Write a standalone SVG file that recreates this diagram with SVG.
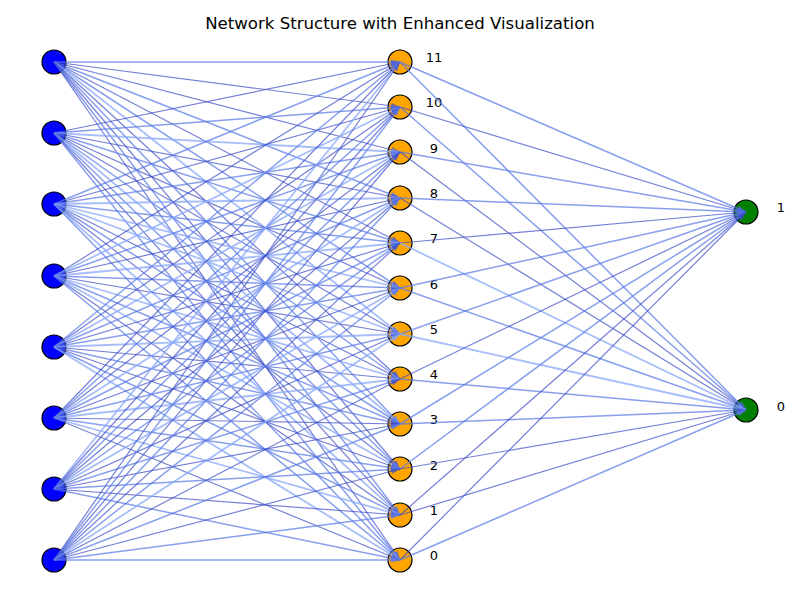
<svg xmlns="http://www.w3.org/2000/svg" width="800" height="600" viewBox="0 0 800 600">
<style>
.t{font-family:"DejaVu Sans",sans-serif;font-size:16.6px;fill:#000}
.lb{font-family:"DejaVu Sans",sans-serif;font-size:13px;fill:#000;text-anchor:middle}
.in{fill:#0000ff;stroke:#000;stroke-width:1.2}
.hd{fill:#ffa500;stroke:#000;stroke-width:1.2}
.out{fill:#008000;stroke:#000;stroke-width:1.2}
.d{stroke:#3a4ac4;stroke-opacity:.7;stroke-width:1.2;marker-end:url(#ad)}
.m{stroke:#5a7ae6;stroke-opacity:.72;stroke-width:1.5;marker-end:url(#am)}
.l{stroke:#8aa8fa;stroke-opacity:.75;stroke-width:1.8;marker-end:url(#al)}
</style>
<defs>
<marker id="ad" markerUnits="userSpaceOnUse" markerWidth="9" markerHeight="6" refX="9" refY="3" orient="auto"><path d="M0,0L9,3L0,6z" fill="#3a4ac4" fill-opacity=".6"/></marker>
<marker id="am" markerUnits="userSpaceOnUse" markerWidth="9" markerHeight="6" refX="9" refY="3" orient="auto"><path d="M0,0L9,3L0,6z" fill="#5a7ae6" fill-opacity=".65"/></marker>
<marker id="al" markerUnits="userSpaceOnUse" markerWidth="9" markerHeight="6" refX="9" refY="3" orient="auto"><path d="M0,0L9,3L0,6z" fill="#8aa8fa" fill-opacity=".7"/></marker>
</defs>
<rect width="800" height="600" fill="#fff"/>
<text class="t" x="400" y="29" text-anchor="middle">Network Structure with Enhanced Visualization</text>
<g id="nodes">
<g id="in0"><circle class="in" cx="54" cy="62" r="12"/></g>
<g id="in1"><circle class="in" cx="54" cy="133" r="12"/></g>
<g id="in2"><circle class="in" cx="54" cy="204" r="12"/></g>
<g id="in3"><circle class="in" cx="54" cy="276" r="12"/></g>
<g id="in4"><circle class="in" cx="54" cy="347" r="12"/></g>
<g id="in5"><circle class="in" cx="54" cy="418" r="12"/></g>
<g id="in6"><circle class="in" cx="54" cy="489" r="12"/></g>
<g id="in7"><circle class="in" cx="54" cy="560" r="12"/></g>
<g id="h11"><circle class="hd" cx="400" cy="62" r="12"/><text class="lb" x="434" y="62">11</text></g>
<g id="h10"><circle class="hd" cx="400" cy="107" r="12"/><text class="lb" x="434" y="107">10</text></g>
<g id="h9"><circle class="hd" cx="400" cy="152" r="12"/><text class="lb" x="434" y="153">9</text></g>
<g id="h8"><circle class="hd" cx="400" cy="198" r="12"/><text class="lb" x="434" y="198">8</text></g>
<g id="h7"><circle class="hd" cx="400" cy="243" r="12"/><text class="lb" x="434" y="243">7</text></g>
<g id="h6"><circle class="hd" cx="400" cy="288" r="12"/><text class="lb" x="434" y="289">6</text></g>
<g id="h5"><circle class="hd" cx="400" cy="334" r="12"/><text class="lb" x="434" y="334">5</text></g>
<g id="h4"><circle class="hd" cx="400" cy="379" r="12"/><text class="lb" x="434" y="379">4</text></g>
<g id="h3"><circle class="hd" cx="400" cy="424" r="12"/><text class="lb" x="434" y="424">3</text></g>
<g id="h2"><circle class="hd" cx="400" cy="469" r="12"/><text class="lb" x="434" y="470">2</text></g>
<g id="h1"><circle class="hd" cx="400" cy="515" r="12"/><text class="lb" x="434" y="515">1</text></g>
<g id="h0"><circle class="hd" cx="400" cy="560" r="12"/><text class="lb" x="434" y="560">0</text></g>
<g id="o1"><circle class="out" cx="746" cy="212" r="12"/><text class="lb" x="781" y="212">1</text></g>
<g id="o0"><circle class="out" cx="746" cy="410" r="12"/><text class="lb" x="781" y="411">0</text></g>
</g>
<g id="edges">
<line class="m" x1="54" y1="62" x2="400" y2="62"/><line class="d" x1="54" y1="62" x2="400" y2="107"/><line class="d" x1="54" y1="62" x2="400" y2="152"/><line class="m" x1="54" y1="62" x2="400" y2="198"/><line class="d" x1="54" y1="62" x2="400" y2="243"/><line class="m" x1="54" y1="62" x2="400" y2="288"/><line class="l" x1="54" y1="62" x2="400" y2="334"/><line class="d" x1="54" y1="62" x2="400" y2="379"/><line class="m" x1="54" y1="62" x2="400" y2="424"/><line class="d" x1="54" y1="62" x2="400" y2="469"/><line class="m" x1="54" y1="62" x2="400" y2="515"/><line class="d" x1="54" y1="62" x2="400" y2="560"/>
<line class="d" x1="54" y1="133" x2="400" y2="62"/><line class="m" x1="54" y1="133" x2="400" y2="107"/><line class="l" x1="54" y1="133" x2="400" y2="152"/><line class="d" x1="54" y1="133" x2="400" y2="198"/><line class="m" x1="54" y1="133" x2="400" y2="243"/><line class="d" x1="54" y1="133" x2="400" y2="288"/><line class="d" x1="54" y1="133" x2="400" y2="334"/><line class="m" x1="54" y1="133" x2="400" y2="379"/><line class="l" x1="54" y1="133" x2="400" y2="424"/><line class="m" x1="54" y1="133" x2="400" y2="469"/><line class="d" x1="54" y1="133" x2="400" y2="515"/><line class="m" x1="54" y1="133" x2="400" y2="560"/>
<line class="m" x1="54" y1="204" x2="400" y2="62"/><line class="d" x1="54" y1="204" x2="400" y2="107"/><line class="m" x1="54" y1="204" x2="400" y2="152"/><line class="l" x1="54" y1="204" x2="400" y2="198"/><line class="m" x1="54" y1="204" x2="400" y2="243"/><line class="l" x1="54" y1="204" x2="400" y2="288"/><line class="l" x1="54" y1="204" x2="400" y2="334"/><line class="d" x1="54" y1="204" x2="400" y2="379"/><line class="m" x1="54" y1="204" x2="400" y2="424"/><line class="d" x1="54" y1="204" x2="400" y2="469"/><line class="l" x1="54" y1="204" x2="400" y2="515"/><line class="m" x1="54" y1="204" x2="400" y2="560"/>
<line class="d" x1="54" y1="276" x2="400" y2="62"/><line class="l" x1="54" y1="276" x2="400" y2="107"/><line class="m" x1="54" y1="276" x2="400" y2="152"/><line class="d" x1="54" y1="276" x2="400" y2="198"/><line class="l" x1="54" y1="276" x2="400" y2="243"/><line class="m" x1="54" y1="276" x2="400" y2="288"/><line class="d" x1="54" y1="276" x2="400" y2="334"/><line class="l" x1="54" y1="276" x2="400" y2="379"/><line class="m" x1="54" y1="276" x2="400" y2="424"/><line class="l" x1="54" y1="276" x2="400" y2="469"/><line class="d" x1="54" y1="276" x2="400" y2="515"/><line class="m" x1="54" y1="276" x2="400" y2="560"/>
<line class="m" x1="54" y1="347" x2="400" y2="62"/><line class="d" x1="54" y1="347" x2="400" y2="107"/><line class="l" x1="54" y1="347" x2="400" y2="152"/><line class="m" x1="54" y1="347" x2="400" y2="198"/><line class="d" x1="54" y1="347" x2="400" y2="243"/><line class="m" x1="54" y1="347" x2="400" y2="288"/><line class="l" x1="54" y1="347" x2="400" y2="334"/><line class="d" x1="54" y1="347" x2="400" y2="379"/><line class="m" x1="54" y1="347" x2="400" y2="424"/><line class="d" x1="54" y1="347" x2="400" y2="469"/><line class="m" x1="54" y1="347" x2="400" y2="515"/><line class="l" x1="54" y1="347" x2="400" y2="560"/>
<line class="d" x1="54" y1="418" x2="400" y2="62"/><line class="m" x1="54" y1="418" x2="400" y2="107"/><line class="d" x1="54" y1="418" x2="400" y2="152"/><line class="l" x1="54" y1="418" x2="400" y2="198"/><line class="m" x1="54" y1="418" x2="400" y2="243"/><line class="d" x1="54" y1="418" x2="400" y2="288"/><line class="m" x1="54" y1="418" x2="400" y2="334"/><line class="l" x1="54" y1="418" x2="400" y2="379"/><line class="d" x1="54" y1="418" x2="400" y2="424"/><line class="m" x1="54" y1="418" x2="400" y2="469"/><line class="l" x1="54" y1="418" x2="400" y2="515"/><line class="d" x1="54" y1="418" x2="400" y2="560"/>
<line class="l" x1="54" y1="489" x2="400" y2="62"/><line class="d" x1="54" y1="489" x2="400" y2="107"/><line class="m" x1="54" y1="489" x2="400" y2="152"/><line class="d" x1="54" y1="489" x2="400" y2="198"/><line class="m" x1="54" y1="489" x2="400" y2="243"/><line class="l" x1="54" y1="489" x2="400" y2="288"/><line class="d" x1="54" y1="489" x2="400" y2="334"/><line class="m" x1="54" y1="489" x2="400" y2="379"/><line class="d" x1="54" y1="489" x2="400" y2="424"/><line class="m" x1="54" y1="489" x2="400" y2="469"/><line class="d" x1="54" y1="489" x2="400" y2="515"/><line class="m" x1="54" y1="489" x2="400" y2="560"/>
<line class="d" x1="54" y1="560" x2="400" y2="62"/><line class="m" x1="54" y1="560" x2="400" y2="107"/><line class="d" x1="54" y1="560" x2="400" y2="152"/><line class="m" x1="54" y1="560" x2="400" y2="198"/><line class="d" x1="54" y1="560" x2="400" y2="243"/><line class="m" x1="54" y1="560" x2="400" y2="288"/><line class="l" x1="54" y1="560" x2="400" y2="334"/><line class="d" x1="54" y1="560" x2="400" y2="379"/><line class="m" x1="54" y1="560" x2="400" y2="424"/><line class="d" x1="54" y1="560" x2="400" y2="469"/><line class="m" x1="54" y1="560" x2="400" y2="515"/><line class="m" x1="54" y1="560" x2="400" y2="560"/>
<line class="m" x1="400" y1="62" x2="746" y2="212"/><line class="m" x1="400" y1="62" x2="746" y2="410"/>
<line class="d" x1="400" y1="107" x2="746" y2="212"/><line class="m" x1="400" y1="107" x2="746" y2="410"/>
<line class="m" x1="400" y1="152" x2="746" y2="212"/><line class="d" x1="400" y1="152" x2="746" y2="410"/>
<line class="m" x1="400" y1="198" x2="746" y2="212"/><line class="d" x1="400" y1="198" x2="746" y2="410"/>
<line class="d" x1="400" y1="243" x2="746" y2="212"/><line class="l" x1="400" y1="243" x2="746" y2="410"/>
<line class="m" x1="400" y1="288" x2="746" y2="212"/><line class="m" x1="400" y1="288" x2="746" y2="410"/>
<line class="m" x1="400" y1="334" x2="746" y2="212"/><line class="l" x1="400" y1="334" x2="746" y2="410"/>
<line class="d" x1="400" y1="379" x2="746" y2="212"/><line class="m" x1="400" y1="379" x2="746" y2="410"/>
<line class="m" x1="400" y1="424" x2="746" y2="212"/><line class="m" x1="400" y1="424" x2="746" y2="410"/>
<line class="m" x1="400" y1="469" x2="746" y2="212"/><line class="d" x1="400" y1="469" x2="746" y2="410"/>
<line class="d" x1="400" y1="515" x2="746" y2="212"/><line class="d" x1="400" y1="515" x2="746" y2="410"/>
<line class="d" x1="400" y1="560" x2="746" y2="212"/><line class="m" x1="400" y1="560" x2="746" y2="410"/>
</g>
</svg>
